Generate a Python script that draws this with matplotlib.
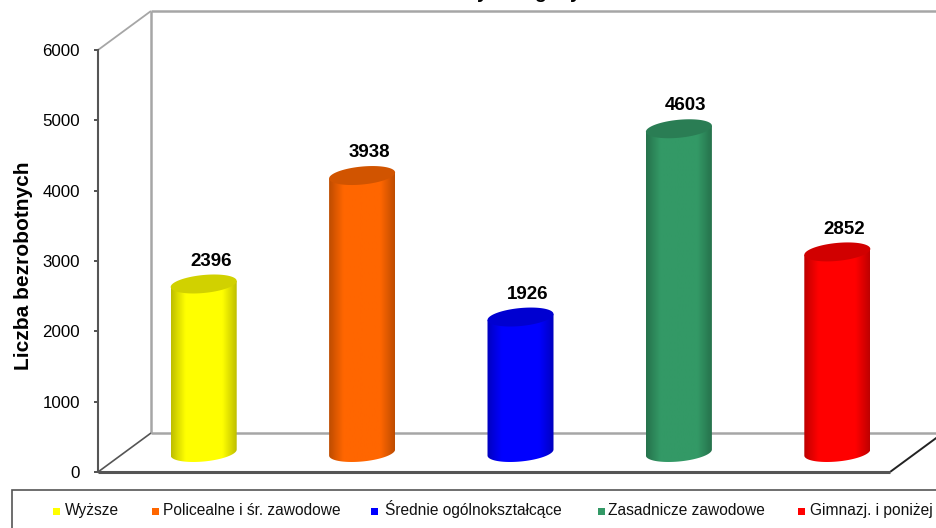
"""Unemployed by education level - fake 3D cylinder bars like the old Excel chart."""
import numpy as np
import matplotlib
matplotlib.use('Agg')
import matplotlib.pyplot as plt
from matplotlib.path import Path
from matplotlib.patches import PathPatch, Rectangle
from matplotlib.colors import to_rgb

plt.rcParams['font.family'] = ['Liberation Sans', 'DejaVu Sans']

categories = ['Wyższe', 'Policealne i śr. zawodowe', 'Średnie ogólnokształcące',
              'Zasadnicze zawodowe', 'Gimnazj. i poniżej']
values = [2396, 3938, 1926, 4603, 2852]
colors = ['#FFFF00', '#FF6600', '#0000FF', '#339966', '#FF0000']
y_ticks = [0, 1000, 2000, 3000, 4000, 5000, 6000]
y_label = 'Liczba bezrobotnych'

W, H = 937, 528
fig = plt.figure(figsize=(W / 100, H / 100), dpi=100)
# front plane of the box, in reference pixels
L, R, TOP, BOT = 98, 890, 50, 472
ax = fig.add_axes([L / W, 1 - BOT / H, (R - L) / W, (BOT - TOP) / H])
ax.set_xlim(-0.5, 4.5)
ax.set_ylim(0, 6000)
PX_X = 5 / (R - L)          # data per pixel
PX_Y = 6000 / (BOT - TOP)
DX, DY = 53 * PX_X, 39 * PX_Y   # depth of the box

for s in ax.spines.values():
    s.set_visible(False)
ax.spines['left'].set_visible(True)
ax.spines['left'].set_color('#555555')
ax.spines['left'].set_linewidth(1.5)
ax.set_xticks([])
ax.set_yticks(y_ticks)
ax.tick_params(axis='y', length=3, width=1.2, color='#333333', pad=10, labelsize=12.2)
ax.set_ylabel(y_label, fontsize=15, fontweight='bold')
ax.yaxis.set_label_coords(-65 / (R - L), (BOT - 266) / (BOT - TOP))


def box_line(xs, ys, color, lw):
    ax.plot(xs, ys, color=color, lw=lw, clip_on=False, zorder=1, solid_capstyle='butt')


# walls and floor
box_line([-0.5, -0.5 + DX], [6000, 6000 + DY], '#a6a6a6', 1.3)
box_line([-0.5 + DX, -0.5 + DX], [DY, 6000 + DY], '#a6a6a6', 1.8)
box_line([-0.5 + DX, 5.5], [6000 + DY, 6000 + DY], '#a6a6a6', 1.8)
box_line([-0.5 + DX, 5.5], [DY, DY], '#a6a6a6', 1.8)
box_line([-0.5, -0.5 + DX], [0, DY], '#555555', 1.2)
box_line([4.5, 4.5 + DX], [0, DY], '#222222', 1.4)
box_line([-0.5, 4.5], [0, 0], '#555555', 2.2)

# cylinders stand half way into the box
A, B, S = 33 * PX_X, 9 * PX_Y, 3 * PX_Y
t = np.linspace(0, 2 * np.pi, 120)
shade = np.interp(np.linspace(0, 1, 200), [0, 0.08, 0.22, 0.78, 0.92, 1],
                  [0.74, 0.84, 1, 1, 0.84, 0.74])
for i, (v, c) in enumerate(zip(values, colors)):
    cx = i + DX / 2
    y0, y1 = DY / 2, v + DY / 2
    rgb = np.array(to_rgb(c))
    ex, ey = A * np.cos(t), B * np.sin(t) + S * np.cos(t)
    # side: bottom half of lower ellipse up to the top ellipse
    low = t[(t >= np.pi)]
    sx = A * np.cos(low)
    sy = B * np.sin(low) + S * np.cos(low) + y0
    side = Path(np.vstack([np.column_stack([sx, sy]) + [cx, 0],
                           [[cx + A, y1 + S], [cx - A, y1 - S], [cx + sx[0], sy[0]]]]))
    patch = PathPatch(side, fc='none', ec='none', transform=ax.transData)
    ax.add_patch(patch)
    grad = (shade[:, None] * rgb)[None, :, :]
    im = ax.imshow(grad, extent=[cx - A, cx + A, y0 - 1000, y1 + 500], aspect='auto',
                   zorder=2, interpolation='bilinear')
    im.set_clip_path(patch)
    ax.fill(cx + ex, y1 + ey, color=rgb * 0.82, lw=0, zorder=3, clip_on=False)
    ax.annotate(str(v), (cx, v), xytext=(5, 30.5), textcoords='offset points', ha='center',
                va='center', fontsize=13.5, fontweight='bold', zorder=5, annotation_clip=False)
ax.set_xlim(-0.5, 4.5)
ax.set_ylim(0, 6000)

# cropped title, only the descenders are left in the picture
for x_px, ch in [(482, 'y'), (540, 'g'), (575, 'y')]:
    fig.text(x_px / W, 1 + 1.5 / H, ch, ha='center', va='baseline', fontsize=14, fontweight='bold')

# legend box runs off the right edge
fig.add_artist(Rectangle((12 / W, -0.05), 1.1, 0.05 + (H - 490) / H, transform=fig.transFigure,
                         fc='white', ec='#555555', lw=1.2))
marks = [57, 155, 375, 602, 802]
texts = [65, 163, 385, 608, 810]
for c, name, mx, tx in zip(colors, categories, marks, texts):
    fig.add_artist(Rectangle((mx / W - 3.5 / W, 1 - 515 / H), 7 / W, 7 / H, transform=fig.transFigure,
                             fc=c, ec='none'))
    fig.text(tx / W, 1 - 515 / H, name, ha='left', va='baseline', fontsize=11.2, color='#111111')

fig.savefig('out.png', dpi=100)
